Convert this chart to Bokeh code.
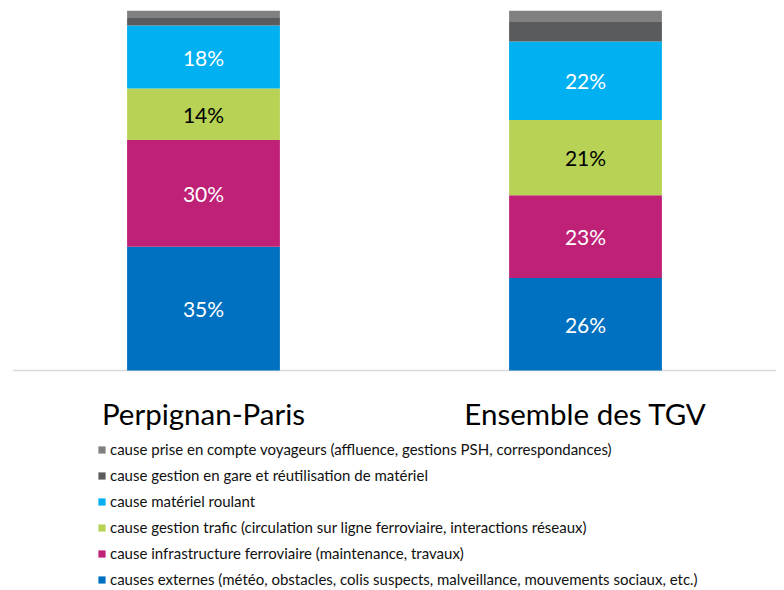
from bokeh.plotting import figure
from bokeh.models import FactorRange, Range1d, Legend, LegendItem, ColumnDataSource, Span
from bokeh.embed import file_html
from bokeh.resources import INLINE
from bokeh.core.properties import value

# ---- data ----
categories = ["Perpignan-Paris", "Ensemble des TGV"]
series_names = ["externes", "infrastructure", "trafic", "materiel", "gare", "voyageurs"]
legend_labels = [
    "causes externes (météo, obstacles, colis suspects, malveillance, mouvements sociaux, etc.)",
    "cause infrastructure ferroviaire (maintenance, travaux)",
    "cause gestion trafic (circulation sur ligne ferroviaire, interactions réseaux)",
    "cause matériel roulant",
    "cause gestion en gare et réutilisation de matériel",
    "cause prise en compte voyageurs (affluence, gestions PSH, correspondances)",
]
externes = [34.4, 25.7]
infrastructure = [29.6, 23.0]
trafic = [14.3, 20.9]
materiel = [17.5, 21.8]
gare = [2.1, 5.4]
voyageurs = [2.1, 3.2]
externes_labels = ["35%", "26%"]
infrastructure_labels = ["30%", "23%"]
trafic_labels = ["14%", "21%"]
materiel_labels = ["18%", "22%"]

colors = ["#0070C0", "#BE2176", "#B7D254", "#00B0F0", "#5A5B5D", "#808080"]
label_colors = ["#FFFFFF", "#FFFFFF", "#000000", "#FFFFFF"]

FONT = "Lato"

data = dict(cat=categories, externes=externes, infrastructure=infrastructure,
            trafic=trafic, materiel=materiel, gare=gare, voyageurs=voyageurs)
source = ColumnDataSource(data)

# frame: 10..590 px tall; 0..100 occupies 360 px, remaining 220 px below zero
px_per_unit = 360 / 100
p = figure(width=784, height=590, output_backend="svg", toolbar_location=None,
           x_range=FactorRange(factors=categories),
           y_range=Range1d(-220 / px_per_unit, 100),
           x_axis_location=None, y_axis_location=None,
           min_border_left=12, min_border_right=8, min_border_top=10, min_border_bottom=0)
p.outline_line_color = None
p.xgrid.grid_line_color = None
p.ygrid.grid_line_color = None

# baseline (axis line)
p.add_layout(Span(location=0, dimension="width", line_color="#D9D9D9",
                  line_width=1.5, level="underlay"))

renderers = p.vbar_stack(series_names, x="cat", width=0.4, color=colors,
                         line_color=None, source=source)

# data labels
series_vals = [externes, infrastructure, trafic, materiel]
series_labels = [externes_labels, infrastructure_labels, trafic_labels, materiel_labels]
base = [0.0] * len(categories)
for vals, labs, col in zip(series_vals, series_labels, label_colors):
    mids = [b + v / 2 for b, v in zip(base, vals)]
    base = [b + v for b, v in zip(base, vals)]
    p.text(x=categories, y=mids, text=labs, text_color=col,
           text_font=value(FONT), text_font_size="21px",
           text_align="center", text_baseline="middle")

# category labels under the baseline
p.text(x=categories, y=[0] * len(categories), text=categories, y_offset=43,
       text_color="#000000", text_font=value(FONT), text_font_size="29.5px",
       text_align="center", text_baseline="alphabetic")

# legend
items = [LegendItem(label=lab, renderers=[r]) for lab, r in zip(legend_labels, renderers)]
items = items[::-1]
legend = Legend(items=items, location=(85, 1), orientation="vertical",
                glyph_width=9, glyph_height=9, label_height=20, spacing=6,
                label_standoff=4, padding=0, margin=0,
                border_line_color=None, background_fill_alpha=0,
                label_text_font=FONT, label_text_font_size="15px",
                label_text_color="#111111")
p.add_layout(legend, "center")

open("out.html", "w").write(file_html(p, INLINE))
